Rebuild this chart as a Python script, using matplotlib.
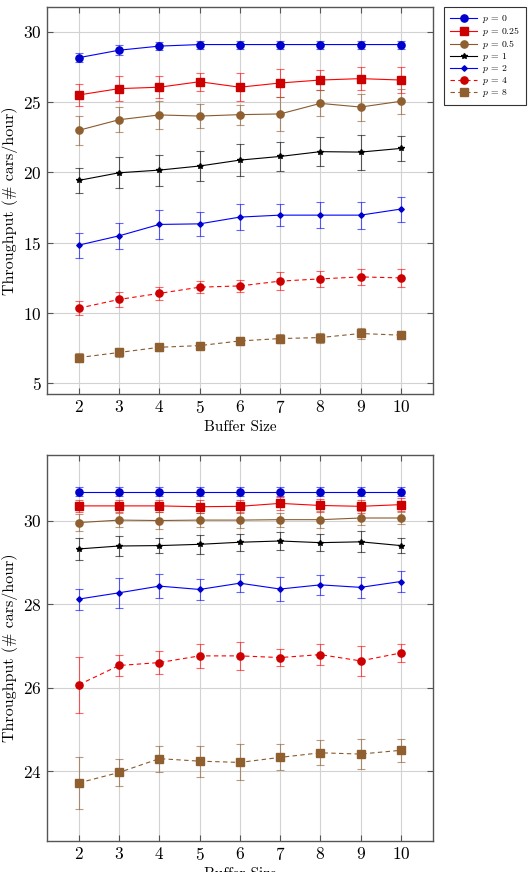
import numpy as np
import matplotlib.pyplot as plt

plt.rcParams['font.family'] = 'serif'
plt.rcParams['font.serif'] = ['cmr10', 'DejaVu Serif']
plt.rcParams['mathtext.fontset'] = 'cm'
plt.rcParams['axes.formatter.use_mathtext'] = True

buffer_sizes = [2, 3, 4, 5, 6, 7, 8, 9, 10]
labels = ['$p\\,=\\,0$', '$p\\,=\\,0.25$', '$p\\,=\\,0.5$', '$p\\,=\\,1$',
          '$p\\,=\\,2$', '$p\\,=\\,4$', '$p\\,=\\,8$']

# top chart: means and errors
top_p0 = [28.15, 28.68, 28.97, 29.08, 29.08, 29.08, 29.08, 29.08, 29.08]
top_p0_err = [0.33, 0.35, 0.3, 0.28, 0.28, 0.28, 0.28, 0.28, 0.28]
top_p025 = [25.5, 25.95, 26.05, 26.44, 26.05, 26.35, 26.56, 26.66, 26.56]
top_p025_err = [0.76, 0.88, 0.8, 0.65, 1.0, 0.98, 0.73, 0.83, 0.92]
top_p05 = [22.99, 23.74, 24.08, 24.0, 24.1, 24.15, 24.9, 24.64, 25.05]
top_p05_err = [1.02, 0.88, 1.02, 0.85, 0.72, 1.2, 0.92, 0.96, 0.88]
top_p1 = [19.43, 19.97, 20.16, 20.45, 20.87, 21.13, 21.47, 21.44, 21.7]
top_p1_err = [0.89, 1.1, 1.1, 1.09, 1.13, 1.02, 1.02, 1.24, 0.91]
top_p2 = [14.83, 15.49, 16.3, 16.34, 16.82, 16.96, 16.96, 16.96, 17.39]
top_p2_err = [0.89, 0.92, 1.03, 0.85, 0.9, 0.76, 0.9, 0.95, 0.89]
top_p4 = [10.35, 10.97, 11.4, 11.84, 11.93, 12.27, 12.43, 12.57, 12.5]
top_p4_err = [0.49, 0.55, 0.47, 0.43, 0.45, 0.66, 0.55, 0.58, 0.62]
top_p8 = [6.84, 7.2, 7.57, 7.69, 8.02, 8.19, 8.26, 8.55, 8.43]
top_p8_err = [0.32, 0.33, 0.25, 0.25, 0.3, 0.3, 0.36, 0.38, 0.3]

# bottom chart
bot_p0 = [30.69, 30.69, 30.69, 30.69, 30.69, 30.69, 30.69, 30.69, 30.69]
bot_p0_err = [0.11, 0.11, 0.11, 0.11, 0.11, 0.11, 0.11, 0.11, 0.11]
bot_p025 = [30.35, 30.35, 30.35, 30.33, 30.34, 30.41, 30.36, 30.34, 30.38]
bot_p025_err = [0.15, 0.15, 0.15, 0.15, 0.15, 0.16, 0.15, 0.15, 0.15]
bot_p05 = [29.95, 30.01, 30.0, 30.01, 30.01, 30.02, 30.02, 30.06, 30.06]
bot_p05_err = [0.2, 0.17, 0.2, 0.17, 0.2, 0.17, 0.2, 0.17, 0.15]
bot_p1 = [29.32, 29.39, 29.4, 29.43, 29.48, 29.51, 29.47, 29.49, 29.4]
bot_p1_err = [0.26, 0.24, 0.17, 0.22, 0.2, 0.22, 0.2, 0.25, 0.18]
bot_p2 = [28.12, 28.27, 28.43, 28.35, 28.5, 28.36, 28.46, 28.4, 28.54]
bot_p2_err = [0.25, 0.36, 0.28, 0.26, 0.22, 0.29, 0.24, 0.25, 0.26]
bot_p4 = [26.07, 26.53, 26.6, 26.76, 26.76, 26.72, 26.79, 26.64, 26.83]
bot_p4_err = [0.67, 0.25, 0.27, 0.28, 0.33, 0.2, 0.26, 0.36, 0.21]
bot_p8 = [23.72, 23.97, 24.3, 24.24, 24.21, 24.33, 24.44, 24.41, 24.5]
bot_p8_err = [0.62, 0.33, 0.31, 0.37, 0.43, 0.31, 0.3, 0.36, 0.27]

# pgfplots-like cycle list
styles = [
    dict(color='#0000ff', mfc='#0000cc', marker='o', ms=5.2, ls='-'),
    dict(color='#ff0000', mfc='#cc0000', marker='s', ms=5.2, ls='-'),
    dict(color='#8a5a2e', mfc='#8f5f30', marker='o', ms=5.2, ls='-'),
    dict(color='#000000', mfc='#000000', marker='*', ms=4.0, ls='-'),
    dict(color='#0000ff', mfc='#0000cc', marker='D', ms=2.8, ls='-'),
    dict(color='#ff0000', mfc='#cc0000', marker='o', ms=5.2, ls=(0, (4, 3))),
    dict(color='#8a5a2e', mfc='#8f5f30', marker='s', ms=5.2, ls=(0, (4, 3))),
]


def draw(ax, series, errs):
    handles = []
    for s, e, st in zip(series, errs, styles):
        h = ax.errorbar(buffer_sizes, s, yerr=e, color=st['color'], ls=st['ls'],
                        lw=0.8, marker=st['marker'], ms=st['ms'],
                        mfc=st['mfc'], mec=st['mfc'], ecolor=st['color'],
                        elinewidth=0.8, capsize=2.6, capthick=0.8, zorder=3)
        h[2][0].set_alpha(0.6)
        for c in h[1]:
            c.set_alpha(0.6)
        handles.append(h[0])
    ax.set_xlim(1.2, 10.8)
    ax.set_xticks(buffer_sizes)
    ax.grid(True, color='#d2d2d2', lw=0.8, zorder=0)
    ax.tick_params(direction='in', top=True, right=True, labelsize=12.5,
                   color='#555555', length=4)
    for sp in ax.spines.values():
        sp.set_color('#555555')
        sp.set_linewidth(1.0)
    ax.set_xlabel('Buffer Size', fontsize=11, labelpad=3)
    ax.set_ylabel('Throughput (# cars/hour)', fontsize=11.5)
    return handles


fig = plt.figure(figsize=(5.3, 8.72), dpi=100)
ax1 = fig.add_axes([0.0881, 0.548, 0.7289, 0.4435])
ax2 = fig.add_axes([0.0881, 0.0356, 0.7289, 0.4427])

hs = draw(ax1, [top_p0, top_p025, top_p05, top_p1, top_p2, top_p4, top_p8],
          [top_p0_err, top_p025_err, top_p05_err, top_p1_err, top_p2_err,
           top_p4_err, top_p8_err])
ax1.set_ylim(4.24, 31.72)
ax1.set_yticks([5, 10, 15, 20, 25, 30])

draw(ax2, [bot_p0, bot_p025, bot_p05, bot_p1, bot_p2, bot_p4, bot_p8],
     [bot_p0_err, bot_p025_err, bot_p05_err, bot_p1_err, bot_p2_err,
      bot_p4_err, bot_p8_err])
ax2.set_ylim(22.33, 31.57)
ax2.set_yticks([24, 26, 28, 30])

leg = fig.legend(hs, labels, loc='upper left',
                 bbox_to_anchor=(444.3 / 530, 1 - 7.3 / 872), borderaxespad=0,
                 fontsize=7, fancybox=False, framealpha=1,
                 edgecolor='#333333', handlelength=2.8, handletextpad=0.5,
                 borderpad=0.6, labelspacing=0.0)
leg.get_frame().set_linewidth(0.8)

plt.savefig('out.png', dpi=100)
